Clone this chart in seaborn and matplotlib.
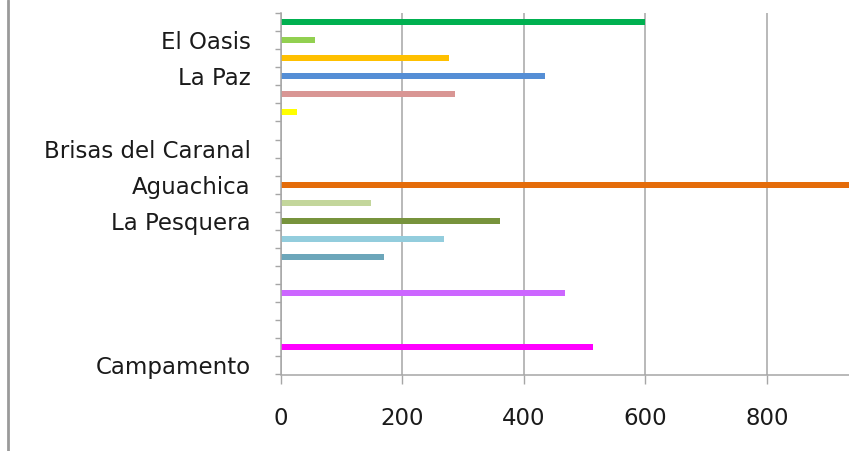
import matplotlib
matplotlib.use("Agg")
import matplotlib.pyplot as plt
import seaborn as sns
import pandas as pd
from matplotlib.lines import Line2D

# categories listed top to bottom, one slot each (hidden labels are "")
slot_ids = [f"s{i:02d}" for i in range(20)]
slot_labels = ["", "El Oasis", "", "La Paz", "", "", "", "Brisas del Caranal", "",
               "Aguachica", "", "La Pesquera", "", "", "", "", "", "", "", "Campamento"]
values = [600, 56, 276, 434, 286, 26, 0, 0, 0,
          980, 148, 360, 268, 169, 0, 468, 0, 0, 514, 0]
colors = ["#00B050", "#92D050", "#FFC000", "#558ED5", "#D99694", "#FFFF00", "#FFFFFF",
          "#FFFFFF", "#FFFFFF", "#E46C0A", "#C3D69B", "#77933C", "#93CDDD", "#6CA6BA",
          "#FFFFFF", "#CC66FF", "#FFFFFF", "#FFFFFF", "#FF00FF", "#FFFFFF"]
x_ticks = [0, 200, 400, 600, 800]

df = pd.DataFrame({"slot": slot_ids, "value": values})
palette = dict(zip(slot_ids, colors))

sns.set_style("white")
plt.rcParams["font.family"] = ["DejaVu Sans"]

fig = plt.figure(figsize=(8.49, 4.51), dpi=100)
ax = fig.add_axes([281 / 849, 1 - 374.5 / 451, 1 - 281 / 849, (374.5 - 13) / 451])

sns.barplot(data=df, x="value", y="slot", hue="slot", palette=palette,
            order=slot_ids, hue_order=slot_ids, width=0.34, dodge=False,
            legend=False, saturation=1, linewidth=0, ax=ax)

grid_col = "#A6A6A6"
ax.set_xlim(0, 935)
ax.set_ylim(len(slot_ids) - 0.5, -0.5)
ax.set_xticks(x_ticks)
ax.set_xticklabels([str(t) for t in x_ticks])
ax.grid(axis="x", color=grid_col, linewidth=1.1)
ax.set_axisbelow(True)

# category boundaries get tick marks, centres get the labels
ax.set_yticks([i - 0.5 for i in range(len(slot_ids) + 1)])
ax.set_yticklabels([])
ax.set_yticks(range(len(slot_ids)), minor=True)
ax.set_yticklabels(slot_labels, minor=True)

ax.tick_params(axis="y", which="major", left=True, direction="out", length=4.5,
               width=1, color=grid_col)
ax.tick_params(axis="y", which="minor", left=True, length=0, pad=22,
               labelsize=16.5, labelcolor="#1a1a1a")
ax.tick_params(axis="x", bottom=True, direction="out", length=6.5, width=1, color=grid_col,
               pad=17, labelsize=16.5, labelcolor="#1a1a1a")

ax.set_xlabel("")
ax.set_ylabel("")
for side in ["top", "right"]:
    ax.spines[side].set_visible(False)
for side in ["left", "bottom"]:
    ax.spines[side].set_color(grid_col)
    ax.spines[side].set_linewidth(1.1)

# outer chart border on the left edge
fig.add_artist(Line2D([8 / 849, 8 / 849], [0, 1], transform=fig.transFigure,
                      color="#9A9A9A", linewidth=2))

fig.savefig("out.png", dpi=100)
